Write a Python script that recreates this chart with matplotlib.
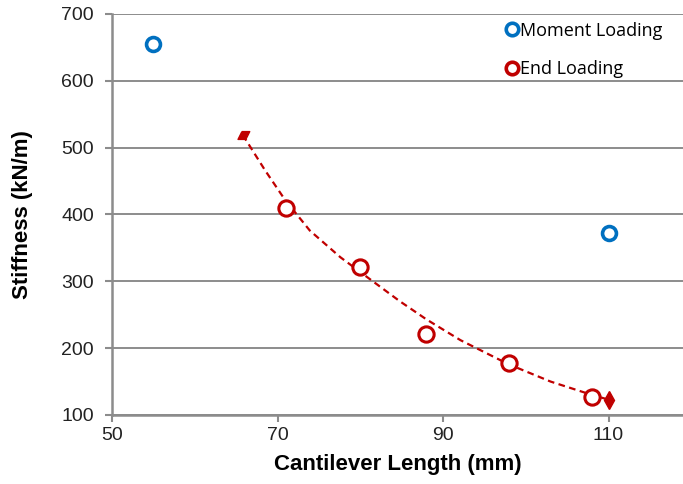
import matplotlib
matplotlib.use("Agg")
import matplotlib.pyplot as plt
from matplotlib.lines import Line2D

# data
moment_x = [55, 110]
moment_y = [655, 372]

end_x = [71, 80, 88, 98, 108]
end_y = [410, 321, 221, 178, 127]

# dashed trend line
trend_x = [65.8, 68.5, 70.9, 73.9, 77.6, 80.1, 84.8, 88.0, 92.1, 97.9, 103.0, 108.0, 110.0]
trend_y = [519, 466, 422, 376, 336, 313, 270, 243, 212, 176, 150, 130, 123]

x_ticks = [50, 70, 90, 110]
y_ticks = [100, 200, 300, 400, 500, 600, 700]

BLUE = "#0070C0"
RED = "#C00000"
GRAY = "#8C8C8C"

plt.rcParams["font.family"] = ["Liberation Sans", "DejaVu Sans"]

fig = plt.figure(figsize=(6.83, 4.84), dpi=100)
ax = fig.add_axes([0.164, 0.1426, 0.836, 0.8285])

ax.set_xlim(50, 119)
ax.set_ylim(100, 700)
ax.set_xticks(x_ticks)
ax.set_yticks(y_ticks)

ax.grid(axis="y", color=GRAY, linewidth=1.4)
ax.set_axisbelow(True)
for side in ["top", "right"]:
    ax.spines[side].set_visible(False)
for side in ["left", "bottom"]:
    ax.spines[side].set_color(GRAY)
    ax.spines[side].set_linewidth(1.8)
ax.tick_params(colors=GRAY, width=1.5, length=5, labelsize=14, labelcolor="#222222")
ax.tick_params(axis="y", pad=8)
ax.tick_params(axis="x", pad=4)

# trend line with end markers
ax.plot(trend_x, trend_y, color=RED, linestyle=(0, (3, 2)), linewidth=1.6, zorder=2)
flag = [(-0.2, 0.5), (0.8, 0.5), (0.3, -0.5), (-0.7, -0.5), (-0.2, 0.5)]
ax.plot(trend_x[:1], trend_y[:1], marker=flag, markersize=9, color=RED, linestyle="none", zorder=3)
ax.plot(trend_x[-1:], trend_y[-1:], marker="d", markersize=9, color=RED, linestyle="none", zorder=3)

ax.plot(moment_x, moment_y, "o", markersize=10, markerfacecolor="white",
        markeredgecolor=BLUE, markeredgewidth=2.6, linestyle="none", zorder=4)
ax.plot(end_x, end_y, "o", markersize=11, markerfacecolor="white",
        markeredgecolor=RED, markeredgewidth=2.2, linestyle="none", zorder=4)

ax.set_xlabel("Cantilever Length (mm)", fontsize=16, fontweight="bold", labelpad=7)
ax.set_ylabel("Stiffness (kN/m)", fontsize=16, fontweight="bold", labelpad=20)

handles = [
    Line2D([], [], marker="o", linestyle="none", markersize=9, markerfacecolor="white",
           markeredgecolor=BLUE, markeredgewidth=2.6),
    Line2D([], [], marker="o", linestyle="none", markersize=9, markerfacecolor="white",
           markeredgecolor=RED, markeredgewidth=2.6),
]
leg = fig.legend(handles, ["Moment Loading", "End Loading"], loc="upper left",
                 bbox_to_anchor=(0.72, 0.985), frameon=False,
                 handlelength=0.6, handletextpad=0.15, labelspacing=1.15,
                 borderpad=0.3, prop={"family": "Open Sans", "size": 13})

fig.savefig("out.png", dpi=100)
